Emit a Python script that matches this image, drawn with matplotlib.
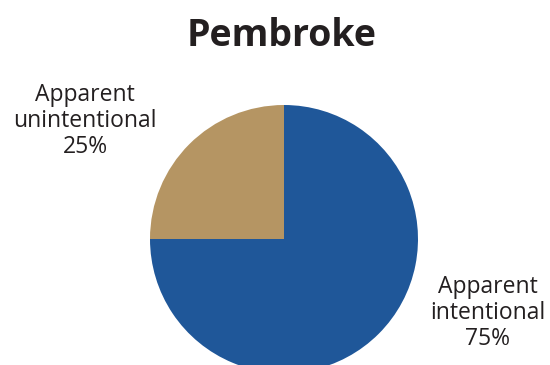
import matplotlib.pyplot as plt

categories = ["Apparent\nintentional", "Apparent\nunintentional"]
shares = [75, 25]
colors = ["#1F5799", "#B59563"]

W, H = 550, 365
fig = plt.figure(figsize=(W / 100, H / 100), dpi=100)
plt.rcParams['font.family'] = ['Open Sans', 'DejaVu Sans']

# pie centre and radius in pixels
cx, cy, r = 284, 239, 134
ax = fig.add_axes([(cx - r) / W, (H - cy - r) / H, 2 * r / W, 2 * r / H])
ax.pie(shares, colors=colors, startangle=90, counterclock=False,
       radius=1, wedgeprops=dict(linewidth=0))
ax.set_xlim(-1, 1)
ax.set_ylim(-1, 1)
ax.set_aspect('auto')
ax.axis('off')

text_color = "#231F20"
fig.text(282 / W, 1 - 36 / H, "Pembroke", ha='center', va='center',
         fontsize=27, fontweight='bold', color=text_color)

label_pos = [(488, 313), (85, 121)]
for (x, y), cat, val in zip(label_pos, categories, shares):
    fig.text(x / W, 1 - y / H, f"{cat}\n{val}%", ha='center', va='center',
             fontsize=16.5, color=text_color, linespacing=1.1)

fig.savefig("out.png", dpi=100)
